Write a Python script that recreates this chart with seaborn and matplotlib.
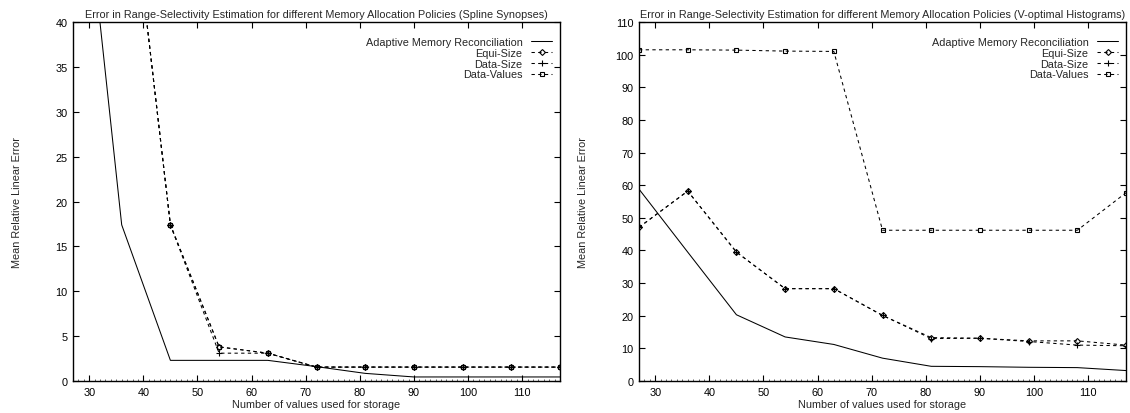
import matplotlib
matplotlib.use('Agg')
import matplotlib.pyplot as plt
import seaborn as sns
from matplotlib.ticker import MultipleLocator

# storage sizes (x axis), shared by both panels
storage = [27, 36, 45, 54, 63, 72, 81, 90, 99, 108, 117]

# Spline Synopses panel
spline_adaptive = [68.0, 17.4, 2.3, 2.3, 2.3, 1.6, 0.85, 0.45, 0.45, 0.45, 0.45]
spline_equi = [95.0, 64.0, 17.4, 3.8, 3.1, 1.55, 1.55, 1.55, 1.55, 1.55, 1.55]
spline_datasize = [95.0, 64.0, 17.4, 3.1, 3.1, 1.55, 1.55, 1.55, 1.55, 1.55, 1.55]
spline_datavalues = [95.0, 64.0, 17.4, 3.8, 3.1, 1.55, 1.55, 1.55, 1.55, 1.55, 1.55]

# V-optimal Histograms panel
vopt_adaptive = [58.8, 39.5, 20.3, 13.5, 11.2, 7.0, 4.5, 4.4, 4.2, 4.1, 3.2]
vopt_equi = [47.1, 58.2, 39.5, 28.3, 28.3, 20.1, 13.3, 13.1, 12.3, 12.3, 11.0]
vopt_datasize = [47.1, 58.2, 39.5, 28.3, 28.3, 20.1, 13.0, 13.1, 12.1, 11.0, 10.8]
vopt_datavalues = [101.5, 101.5, 101.4, 101.1, 101.0, 46.2, 46.2, 46.2, 46.2, 46.2, 57.7]

series_names = ['Adaptive Memory Reconciliation', 'Equi-Size', 'Data-Size', 'Data-Values']

sns.set_style('ticks')
plt.rcParams['font.family'] = ['Liberation Sans', 'DejaVu Sans']
plt.rcParams['font.size'] = 7.8
plt.rcParams['xtick.direction'] = 'in'
plt.rcParams['ytick.direction'] = 'in'

FS = 7.8

fig = plt.figure(figsize=(11.3, 4.14), dpi=100)
ax_left = fig.add_axes([0.0646, 0.0773, 0.431, 0.867])
ax_right = fig.add_axes([0.5655, 0.0773, 0.431, 0.867])

# gnuplot-like: hollow (transparent) point symbols, short dashes
dash = (0, (3.2, 3.2))
styles = [
    dict(linestyle='-', marker=None),
    dict(linestyle=dash, marker='D', ms=3.0, mfc='none'),
    dict(linestyle=dash, marker='+', ms=5),
    dict(linestyle=dash, marker='s', ms=3.3, mfc='none'),
]


def draw_panel(ax, data, title, ymax, ystep):
    for name, values, st in zip(series_names, data, styles):
        sns.lineplot(x=storage, y=values, ax=ax, color='black', lw=0.75,
                     mec='black', mew=0.8, label=name, **st)
    ax.set_xlim(27, 117)
    ax.set_ylim(0, ymax)
    ax.xaxis.set_major_locator(MultipleLocator(10))
    ax.xaxis.set_minor_locator(MultipleLocator(1))
    ax.yaxis.set_major_locator(MultipleLocator(ystep))
    ax.tick_params(which='major', top=True, right=True, length=4, width=0.8,
                   labelsize=FS, pad=4, colors='black')
    ax.tick_params(axis='x', which='minor', bottom=True, top=False, length=1.5, width=0.5)
    for sp in ax.spines.values():
        sp.set_linewidth(1.0)
        sp.set_color('black')
    ax.set_title(title, fontsize=FS, pad=4)
    ax.set_xlabel('Number of values used for storage', fontsize=FS, labelpad=2)
    ax.set_ylabel('Mean Relative Linear Error', fontsize=FS)
    ax.yaxis.set_label_coords(-0.104, 0.5)
    leg = ax.legend(loc='upper right', bbox_to_anchor=(0.992, 0.971),
                    frameon=False, markerfirst=False, fontsize=FS,
                    handlelength=1.9, handletextpad=0.8, labelspacing=0.08,
                    borderaxespad=0, numpoints=1)
    return leg


draw_panel(ax_left, [spline_adaptive, spline_equi, spline_datasize, spline_datavalues],
           'Error in Range-Selectivity Estimation for different Memory Allocation Policies (Spline Synopses)',
           40, 5)
draw_panel(ax_right, [vopt_adaptive, vopt_equi, vopt_datasize, vopt_datavalues],
           'Error in Range-Selectivity Estimation for different Memory Allocation Policies (V-optimal Histograms)',
           110, 10)

fig.savefig('out.png', dpi=100)
plt.close('all')
